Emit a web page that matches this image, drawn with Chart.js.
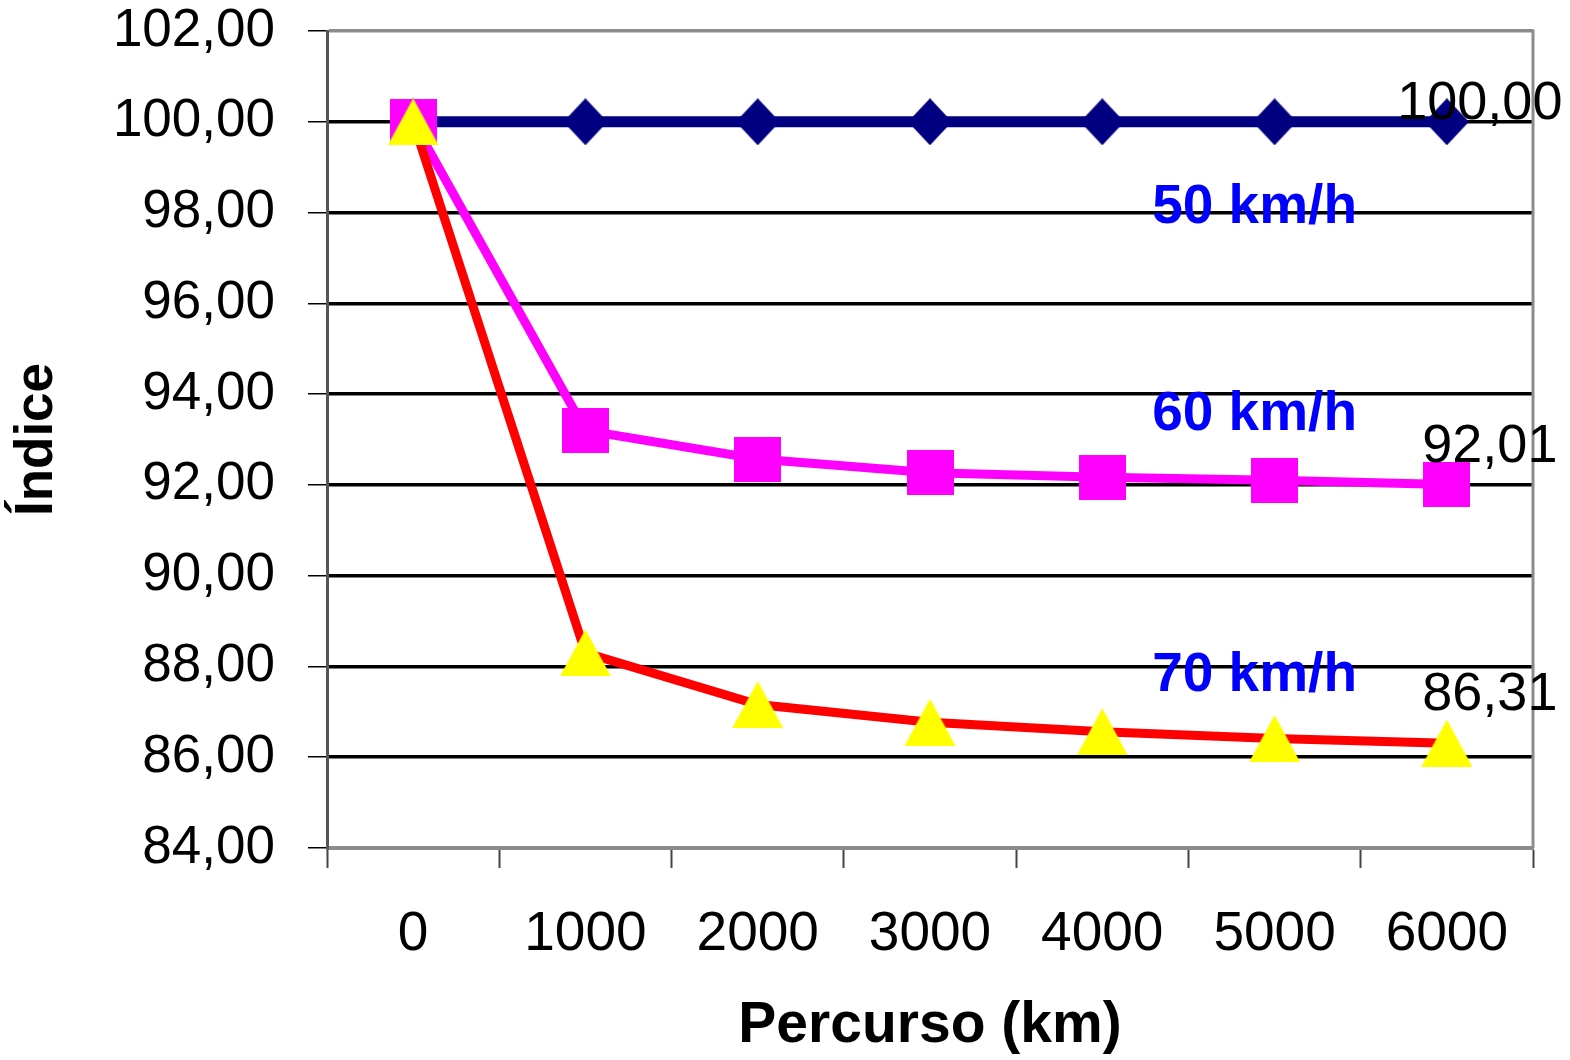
<!DOCTYPE html>
<html>
<head>
<meta charset="utf-8">
<script src="https://cdn.jsdelivr.net/npm/chart.js@4/dist/chart.umd.min.js"></script>
<style>
  html, body { margin: 0; padding: 0; background: #fff; }
</style>
</head>
<body>
<canvas id="indiceChart" width="1570" height="1060"></canvas>
<script>
// data
const distances = ['0', '1000', '2000', '3000', '4000', '5000', '6000'];
const speed50 = [100, 100, 100, 100, 100, 100, 100];
const speed60 = [100, 93.2, 92.57, 92.27, 92.17, 92.1, 92.01];
const speed70 = [100, 88.3, 87.16, 86.77, 86.56, 86.41, 86.31];
const seriesNames = ['50 km/h', '60 km/h', '70 km/h'];
// where the series names sit (category index, index value)
const nameIndex = [5, 5, 5];
const nameValue = [98.1, 93.55, 87.8];

const FONT = '"Liberation Sans", Arial, sans-serif';

// marker images, centred on their bounding box like the original
function marker(w, h, color, shape) {
  const c = document.createElement('canvas');
  c.width = w; c.height = h;
  const g = c.getContext('2d');
  g.fillStyle = color;
  g.beginPath();
  if (shape === 'diamond') {
    g.moveTo(w / 2, 0); g.lineTo(w, h / 2); g.lineTo(w / 2, h); g.lineTo(0, h / 2);
  } else if (shape === 'triangle') {
    g.moveTo(w / 2, 0); g.lineTo(w, h); g.lineTo(0, h);
  } else {
    g.rect(0, 0, w, h);
  }
  g.closePath();
  g.fill();
  return c;
}

const fmt = v => v.toFixed(2).replace('.', ',');

// borders + text notes
const chartNotes = {
  id: 'chartNotes',
  beforeDatasetsDraw(chart) {
    const { ctx, chartArea: a } = chart;
    ctx.save();
    ctx.strokeStyle = '#8c8c8c';
    ctx.lineWidth = 3;
    ctx.beginPath();
    ctx.moveTo(a.right, a.top - 1.5);
    ctx.lineTo(a.right, a.bottom);
    ctx.stroke();
    ctx.restore();
  },
  afterDatasetsDraw(chart) {
    const { ctx } = chart;
    const xs = chart.scales.x, ys = chart.scales.y;
    ctx.save();
    ctx.textAlign = 'center';
    ctx.textBaseline = 'middle';

    ctx.font = 'bold 55px ' + FONT;
    ctx.fillStyle = '#0000ff';
    seriesNames.forEach((n, i) => {
      ctx.fillText(n, xs.getPixelForValue(nameIndex[i]) - 20, ys.getPixelForValue(nameValue[i]));
    });

    ctx.font = '54px ' + FONT;
    ctx.fillStyle = '#000';
    chart.data.datasets.forEach(ds => {
      const last = ds.data.length - 1;
      const v = ds.data[last];
      ctx.fillText(fmt(v), xs.getPixelForValue(last) + ds.labelShift[0], ys.getPixelForValue(v) + ds.labelShift[1]);
    });
    ctx.restore();
  }
};

new Chart(document.getElementById('indiceChart'), {
  type: 'line',
  data: {
    labels: distances,
    datasets: [
      {
        label: seriesNames[0],
        data: speed50,
        borderColor: '#000080',
        borderWidth: 11,
        pointStyle: marker(44, 47, '#000080', 'diamond'),
        pointRadius: 20,
        order: 2,
        labelShift: [33, -18]
      },
      {
        label: seriesNames[1],
        data: speed60,
        borderColor: '#ff00ff',
        borderWidth: 9,
        pointStyle: marker(47, 45, '#ff00ff', 'square'),
        pointRadius: 20,
        order: 1,
        labelShift: [43, -37]
      },
      {
        label: seriesNames[2],
        data: speed70,
        borderColor: '#ff0000',
        borderWidth: 9,
        pointStyle: marker(51, 47, '#ffff00', 'triangle'),
        pointRadius: 20,
        order: 0,
        labelShift: [43, -48]
      }
    ]
  },
  options: {
    responsive: false,
    animation: false,
    layout: { padding: { left: 0, top: 31, right: 37, bottom: 0 } },
    plugins: {
      legend: { display: false },
      tooltip: { enabled: false }
    },
    scales: {
      x: {
        offset: true,
        grid: {
          offset: true,
          drawOnChartArea: false,
          tickLength: 20,
          tickWidth: 2,
          tickColor: '#444',
          color: '#444'
        },
        border: { color: '#8c8c8c', width: 3 },
        ticks: { font: { size: 55, family: FONT }, color: '#000', padding: 34 },
        title: {
          display: true,
          text: 'Percurso (km)',
          font: { size: 57, weight: 'bold', family: FONT },
          color: '#000',
          padding: { top: 0, bottom: 0 }
        },
        afterFit(scale) {
          scale.height = 212;
          scale.paddingLeft = 0;
          scale.paddingRight = 0;
        }
      },
      y: {
        min: 84,
        max: 102,
        ticks: {
          stepSize: 2,
          font: { size: 53, family: FONT },
          color: '#000',
          padding: 33,
          callback: v => fmt(v)
        },
        grid: {
          color: ctx => (ctx.tick && (ctx.tick.value === 102 || ctx.tick.value === 84)) ? '#8c8c8c' : '#000',
          lineWidth: 3.5,
          tickLength: 19,
          tickColor: '#000',
          tickWidth: 1.5
        },
        border: { color: '#555', width: 3 },
        title: {
          display: true,
          text: 'Índice',
          font: { size: 53, weight: 'bold', family: FONT },
          color: '#000',
          padding: { top: 6, bottom: 0 }
        },
        afterFit(scale) {
          scale.width = 327;
          scale.paddingTop = 0;
          scale.paddingBottom = 0;
        }
      }
    }
  },
  plugins: [chartNotes]
});
</script>
</body>
</html>
